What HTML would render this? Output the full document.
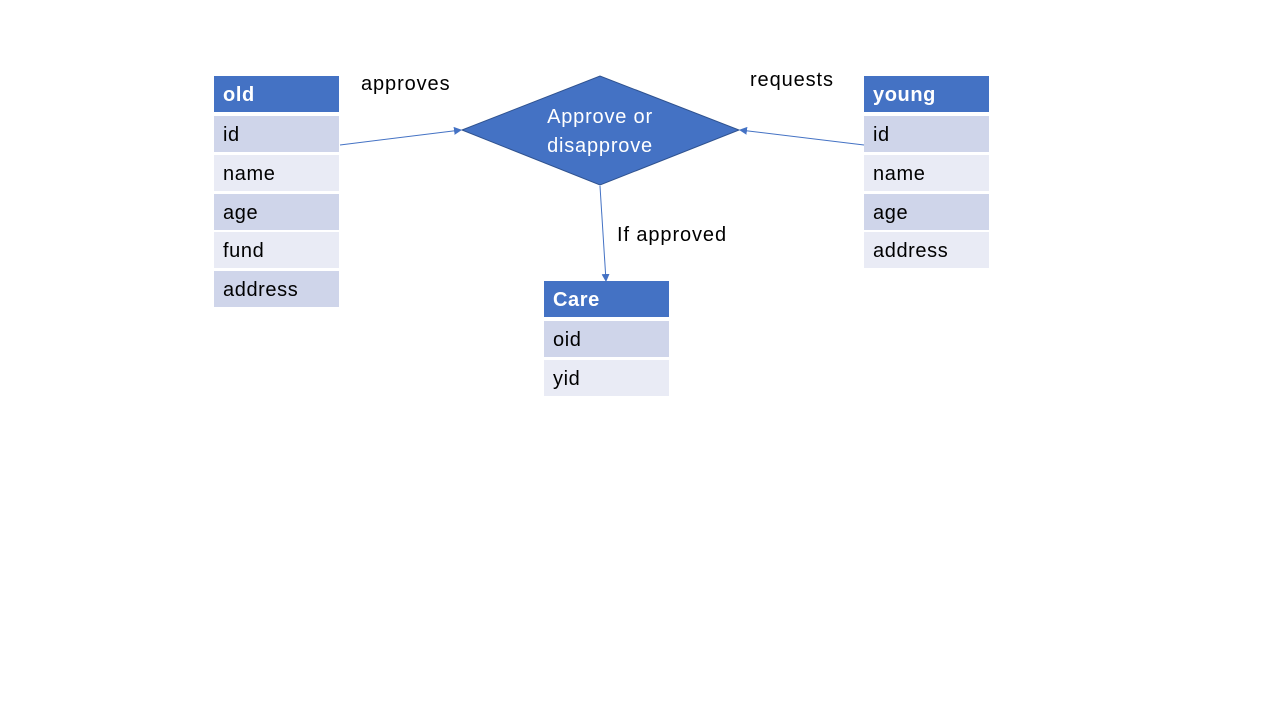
<!DOCTYPE html>
<html><head><style>
body{margin:0;width:1280px;height:720px;background:#fff;position:relative;font-family:"Liberation Sans",sans-serif;overflow:hidden}
.c{position:absolute;width:125px;height:36px;box-sizing:border-box;padding-left:9px;line-height:38px;font-size:20px;color:#000;letter-spacing:0.6px}
.h{background:#4472c4;color:#fff;font-weight:bold}
.d{background:#cfd5ea}.l{background:#e9ebf5}
.t{position:absolute;font-size:20px;color:#000;letter-spacing:0.9px}
</style></head><body>
<div class="c h" style="left:214px;top:76px">old</div>
<div class="c d" style="left:214px;top:116px">id</div>
<div class="c l" style="left:214px;top:155px">name</div>
<div class="c d" style="left:214px;top:194px">age</div>
<div class="c l" style="left:214px;top:232px">fund</div>
<div class="c d" style="left:214px;top:271px">address</div>

<div class="c h" style="left:864px;top:76px">young</div>
<div class="c d" style="left:864px;top:116px">id</div>
<div class="c l" style="left:864px;top:155px">name</div>
<div class="c d" style="left:864px;top:194px">age</div>
<div class="c l" style="left:864px;top:232px">address</div>

<div class="c h" style="left:544px;top:281px">Care</div>
<div class="c d" style="left:544px;top:321px">oid</div>
<div class="c l" style="left:544px;top:360px">yid</div>

<svg style="position:absolute;left:0;top:0" width="1280" height="720">
<defs><marker id="a" markerWidth="8" markerHeight="8" refX="7" refY="4" orient="auto" markerUnits="userSpaceOnUse"><path d="M0,0 L8,4 L0,8z" fill="#4472c4"/></marker></defs>
<polygon points="462,130 600,76 739,130 600,185" fill="#4472c4" stroke="#2f528f" stroke-width="1"/>
<text x="600" y="123" text-anchor="middle" fill="#fff" font-size="20" letter-spacing="0.8" font-family="Liberation Sans">Approve or</text>
<text x="600" y="152" text-anchor="middle" fill="#fff" font-size="20" letter-spacing="0.8" font-family="Liberation Sans">disapprove</text>
<line x1="340" y1="145" x2="461" y2="130" stroke="#4472c4" marker-end="url(#a)"/>
<line x1="864" y1="145" x2="740" y2="130" stroke="#4472c4" marker-end="url(#a)"/>
<line x1="600" y1="186" x2="606" y2="281" stroke="#4472c4" marker-end="url(#a)"/>
</svg>
<div class="t" style="left:361px;top:73px">approves</div>
<div class="t" style="left:750px;top:69px">requests</div>
<div class="t" style="left:617px;top:224px">If approved</div>
</body></html>
